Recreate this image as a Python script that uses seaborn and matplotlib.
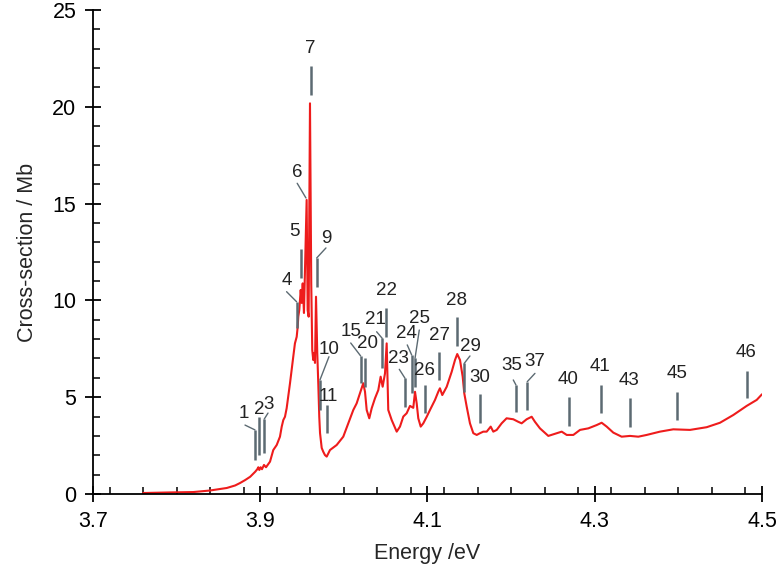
import matplotlib
matplotlib.use('Agg')
import matplotlib.pyplot as plt
import seaborn as sns
from matplotlib.ticker import MultipleLocator

# Spectrum: energy (eV) and cross-section (Mb)
energy = [3.760, 3.792, 3.820, 3.840, 3.860, 3.870, 3.876, 3.882, 3.888, 3.894,
          3.8965, 3.8977, 3.8989, 3.9005, 3.9021, 3.9045, 3.9069, 3.9117, 3.9156, 3.9197,
          3.9236, 3.9257, 3.9276, 3.9296, 3.9316, 3.9335, 3.9356, 3.9376, 3.9395, 3.9415,
          3.9436, 3.9448, 3.9455, 3.9467, 3.9484, 3.9496, 3.9508, 3.9523, 3.9539, 3.9555,
          3.9567, 3.9579, 3.9595, 3.9610, 3.9622, 3.9634, 3.9646, 3.9655, 3.9667, 3.9682,
          3.9694, 3.9706, 3.9715, 3.9735, 3.9754, 3.9774, 3.9795, 3.9834, 3.9914, 3.9993,
          4.0053, 4.0113, 4.0153, 4.0193, 4.0232, 4.0253, 4.0273, 4.0304, 4.0333, 4.0372,
          4.0412, 4.0440, 4.0464, 4.0492, 4.0512, 4.0531, 4.0572, 4.0632, 4.0671, 4.0711,
          4.0751, 4.0791, 4.0830, 4.0851, 4.0871, 4.0890, 4.0919, 4.0950, 4.0991, 4.1030,
          4.1090, 4.1129, 4.1149, 4.1177, 4.1230, 4.1290, 4.1329, 4.1356, 4.1389, 4.1421,
          4.1440, 4.1469, 4.1508, 4.1548, 4.1589, 4.1628, 4.1667, 4.1708, 4.1756, 4.1787,
          4.1828, 4.1887, 4.1946, 4.2026, 4.2085, 4.2126, 4.2186, 4.2246, 4.2285, 4.2345,
          4.2445, 4.2545, 4.2605, 4.2665, 4.2744, 4.2824, 4.2923, 4.3023, 4.3083, 4.3143,
          4.3222, 4.3322, 4.3422, 4.3521, 4.3621, 4.3780, 4.3939, 4.4139, 4.4339, 4.4498,
          4.4657, 4.4817, 4.4937, 4.5000]
xsec = [0.05, 0.08, 0.10, 0.18, 0.31, 0.44, 0.57, 0.72, 0.89, 1.15,
        1.28, 1.38, 1.24, 1.38, 1.28, 1.50, 1.38, 1.67, 2.27, 2.53,
        2.96, 3.48, 3.82, 3.99, 4.43, 5.03, 5.72, 6.40, 7.09, 7.78,
        8.12, 8.64, 9.16, 9.50, 10.54, 9.87, 10.88, 9.35, 12.26, 15.19,
        9.50, 9.16, 20.18, 10.90, 7.44, 6.92, 7.28, 6.77, 10.19, 7.28,
        5.73, 3.99, 3.15, 2.38, 2.18, 2.01, 1.93, 2.27, 2.53, 2.96,
        3.65, 4.34, 4.68, 5.20, 5.72, 5.28, 4.34, 3.91, 4.43, 4.94,
        5.37, 6.06, 5.54, 6.23, 7.78, 4.34, 3.82, 3.22, 3.48, 4.00,
        4.17, 4.55, 4.45, 5.28, 4.68, 3.91, 3.48, 3.65, 3.99, 4.34,
        4.86, 5.28, 5.46, 5.11, 5.54, 6.32, 6.92, 7.23, 6.92, 6.06,
        5.20, 4.51, 3.65, 3.14, 3.05, 3.14, 3.22, 3.22, 3.48, 3.22,
        3.31, 3.65, 3.91, 3.86, 3.73, 3.65, 3.86, 3.99, 3.73, 3.39,
        3.00, 3.14, 3.22, 3.05, 3.05, 3.31, 3.39, 3.56, 3.68, 3.48,
        3.17, 2.96, 3.00, 2.96, 3.05, 3.22, 3.34, 3.31, 3.45, 3.68,
        4.08, 4.55, 4.86, 5.15]

# Peak assignment labels
peak_labels = ['1', '2', '3', '4', '5', '6', '7', '9', '10', '11', '15', '20', '21', '22',
               '23', '24', '25', '26', '27', '28', '29', '30', '35', '37', '40', '41',
               '43', '45', '46']
label_x = [3.8806, 3.8985, 3.9105, 3.9315, 3.9406, 3.9442, 3.9602, 3.9786, 3.9822, 3.9814,
           4.0082, 4.0280, 4.0372, 4.0504, 4.0651, 4.0751, 4.0910, 4.0970, 4.1141, 4.1349,
           4.1508, 4.1620, 4.2007, 4.2285, 4.2684, 4.3063, 4.3413, 4.3980, 4.4809]
label_y = [4.18, 4.39, 4.60, 11.05, 13.55, 16.60, 23.02, 13.22, 7.44, 5.03,
           8.38, 7.75, 8.99, 10.50, 7.01, 8.30, 9.08, 6.40, 8.21, 10.02,
           7.64, 6.03, 6.66, 6.83, 5.89, 6.58, 5.85, 6.23, 7.30]
# marker bar: energy, top, bottom
mark_x = [3.8937, 3.8989, 3.9048, 3.9435, 3.9487, 3.9547, 3.9602, 3.9675, 3.9714, 3.9802,
          4.0201, 4.0256, 4.0459, 4.0504, 4.0731, 4.0811, 4.0851, 4.0970, 4.1141, 4.1349,
          4.1440, 4.1628, 4.2058, 4.2193, 4.2692, 4.3075, 4.3421, 4.3980, 4.4817]
mark_top = [3.31, 3.98, 3.87, 9.93, 12.66, 15.29, 22.11, 12.19, 5.89, 4.60,
            7.13, 7.02, 8.04, 9.61, 5.98, 7.18, 7.01, 5.63, 7.35, 9.16,
            6.75, 5.17, 5.63, 5.80, 5.03, 5.63, 4.96, 5.28, 6.37]
mark_bot = [1.76, 2.01, 2.12, 8.57, 11.16, 15.29, 20.61, 10.69, 4.34, 3.14,
            5.73, 5.54, 6.51, 8.12, 4.51, 5.22, 5.54, 4.18, 5.89, 7.64,
            5.28, 3.67, 4.25, 4.34, 3.51, 4.17, 3.48, 3.82, 4.94]
# leader start (None = label sits right above the bar)
lead_x = [3.8818, None, 3.9093, 3.9315, None, 3.9442, None, 3.9786, 3.9822, None,
          4.0082, None, 4.0392, None, 4.0663, 4.0758, 4.0902, None, None, None,
          4.1508, None, 4.2026, 4.2285, None, None, None, None, None]
lead_y = [3.56, None, 4.18, 10.45, None, 16.05, None, 12.71, 7.09, None,
          7.80, None, 8.38, None, 6.44, 7.70, 8.47, None, None, None,
          7.13, None, 5.89, 6.23, None, None, None, None, None]

sns.set_style('ticks')
plt.rcParams['font.family'] = ['Liberation Sans', 'DejaVu Sans']

fig = plt.figure(figsize=(7.82, 5.73), dpi=100)
ax = fig.add_axes([0.1189, 0.1379, 0.8555, 0.8446])

sns.lineplot(x=energy, y=xsec, color='#ee1c1c', linewidth=1.5,
             estimator=None, sort=False, ax=ax)

bar_col = '#5c6a72'
for i, lab in enumerate(peak_labels):
    ax.plot([mark_x[i], mark_x[i]], [mark_top[i], mark_bot[i]], color=bar_col, lw=1.8,
            solid_capstyle='butt')
    if lead_x[i] is not None:
        ax.plot([lead_x[i], mark_x[i]], [lead_y[i], mark_top[i]], color=bar_col, lw=1.0)
    ax.text(label_x[i], label_y[i], lab, ha='center', va='center', fontsize=13.5,
            color='#222222')

ax.set_xlim(3.7, 4.5)
ax.set_ylim(0, 25)
ax.xaxis.set_major_locator(MultipleLocator(0.2))
ax.xaxis.set_minor_locator(MultipleLocator(0.04))
ax.yaxis.set_major_locator(MultipleLocator(5))
ax.yaxis.set_minor_locator(MultipleLocator(1))
ax.tick_params(which='major', direction='inout', length=12, width=1.3, labelsize=15.5,
               colors='black', pad=6)
ax.tick_params(which='minor', direction='in', length=5, width=1.3)
ax.set_xticks([3.7, 3.9, 4.1, 4.3, 4.5])
ax.set_xticklabels(['3.7', '3.9', '4.1', '4.3', '4.5'])

for s in ['top', 'right']:
    ax.spines[s].set_visible(False)
for s in ['left', 'bottom']:
    ax.spines[s].set_linewidth(1.3)
    ax.spines[s].set_color('black')

ax.set_xlabel('Energy /eV', fontsize=15.5, labelpad=8)
ax.set_ylabel('Cross-section / Mb', fontsize=15.5, labelpad=10)

fig.savefig('out.png', dpi=100)
